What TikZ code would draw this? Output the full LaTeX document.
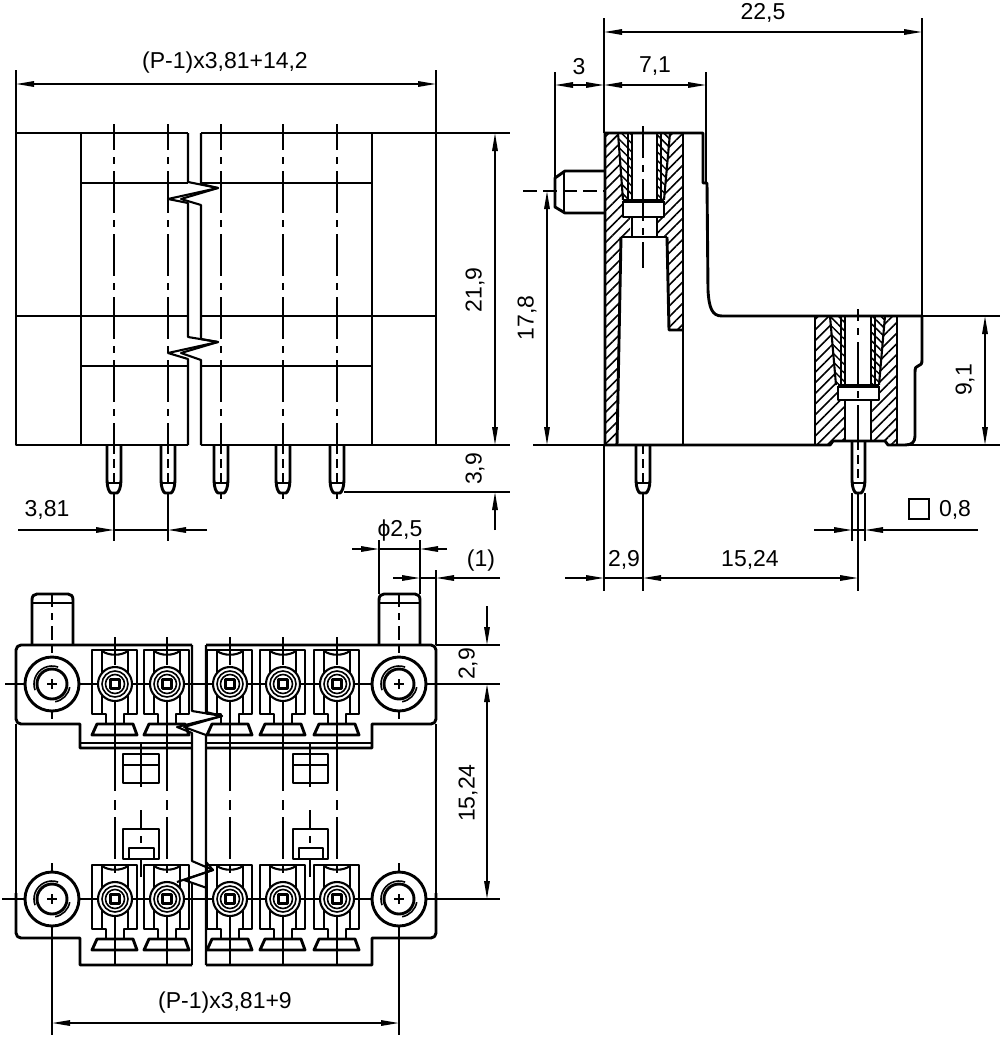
\documentclass[tikz,border=0pt]{standalone}
\usepackage{fontspec}
\setmainfont{Liberation Sans}
\usetikzlibrary{arrows.meta,patterns.meta}
\tikzset{
 ol/.style={line width=2.9pt,line join=round},
 med/.style={line width=2.1pt,line join=round},
 thn/.style={line width=1.6pt},
 cl/.style={line width=1.8pt,dash pattern=on 42pt off 7pt on 7pt off 7pt,dash phase=16pt},
 dm/.style={line width=1.5pt,{Triangle[length=18pt,width=5.5pt]}-{Triangle[length=18pt,width=5.5pt]}},
 da/.style={line width=1.5pt,-{Triangle[length=18pt,width=5.5pt]}},
 lab/.style={font=\fontsize{23}{25}\selectfont,inner sep=0pt},
 rlab/.style={lab,rotate=90},
 hu/.style={pattern={Lines[angle=45,distance=7.5pt,line width=1.6pt]}},
 hd/.style={pattern={Lines[angle=-45,distance=6pt,line width=1.5pt]}}
}
\newcommand{\termcell}[2]{%
 \begin{scope}[shift={(#1,#2)}]
  \draw[ol] (-13,30)--(-23,30)--(-23,-34)--(22,-34)--(22,30)--(13,30);
  \draw[med] (-13,-33) .. controls (-6,-28) and (6,-28) .. (13,-33);
  \draw[med] (-13,-33)--(-13,30) (13,-33)--(13,30);
  \draw[med] (-13,30)--(-9,30)--(-9,40) (13,30)--(9,30)--(9,40);
  \draw[ol] (-18,40)--(18,40)--(22,51)--(-23,51)--cycle;
  \draw[med,fill=white] (0,0) circle[radius=17pt];
  \draw[thn] (0,0) circle[radius=13pt];
  \draw[thn] (0,0) circle[radius=9.5pt];
  \draw[med] (-4.5,-4.5) rectangle (4.5,4.5);
 \end{scope}}
\newcommand{\bighole}[2]{%
 \draw[ol,fill=white] (#1,#2) circle[radius=27pt];
 \draw[ol] (#1,#2) circle[radius=15pt];
 \draw[thn] ([shift={(70:18pt)}]#1,#2) arc[start angle=70,end angle=200,radius=18pt];
 \draw[thn] ([shift={(-80:18pt)}]#1,#2) arc[start angle=-80,end angle=-10,radius=18pt];
 \draw[thn] (#1-5,#2)--(#1+5,#2) (#1,#2-5)--(#1,#2+5);}
\newcommand{\toppin}[1]{%
 \draw[ol] (#1-7,445)--(#1-7,480) .. controls (#1-7,487) and (#1-5,492) .. (#1-3,493)--(#1+3,493) .. controls (#1+5,492) and (#1+7,487) .. (#1+7,480)--(#1+7,445);
 \draw[thn] (#1-7,483)--(#1+7,483);
 \draw[line width=1.8pt,dash pattern=on 9pt off 5pt] (#1,445)--(#1,483);}
\begin{document}
\begin{tikzpicture}[x=1pt,y=-1pt,line cap=butt]
\useasboundingbox (0,0) rectangle (1000,1039);

%% ---------- top-left view ----------
\draw[ol] (188,133)--(16,133)--(16,445)--(188,445);
\draw[ol] (201,133)--(436,133)--(436,445)--(201,445);
\draw[ol] (81,133)--(81,445) (372,133)--(372,445);
\draw[ol] (81,183)--(188,183) (202,183)--(372,183);
\draw[ol] (16,316)--(188,316) (202,316)--(436,316);
\draw[ol] (81,366)--(188,366) (202,366)--(372,366);
\draw[med] (188,133)--(188,182)--(218,188)--(168,199)--(188,203)--(188,337)--(218,342)--(168,353)--(188,359)--(188,445);
\draw[med] (201,133)--(201,184)--(218,188)--(181,199)--(201,205)--(201,339)--(218,342)--(181,353)--(201,360)--(201,445);
\foreach \x in {114,168,221,283,337} {
  \draw[cl] (\x,124)--(\x,445);
  \toppin{\x}
}
\draw[thn] (114,493)--(114,541) (168,493)--(168,541);
\foreach \x in {221,283,337} \draw[thn] (\x,493)--(\x,499);

%% dims of top-left view
\draw[thn] (16,70)--(16,133) (436,70)--(436,133);
\draw[dm] (16,84)--(436,84);
\node[lab] (tPa) at (225,63) {(P-1)x3,81+14,2};
\draw[thn] (436,133)--(510,133) (436,445)--(510,445) (344,492)--(510,492);
\draw[dm] (495,133)--(495,445);
\node[rlab] (t219) at (475,290) {21,9};
\node[rlab] (t39) at (475,469) {3,9};
\draw[da] (495,530)--(495,492);
\draw[da] (18,530)--(114,530);
\draw[da] (207,530)--(168,530);
\draw[thn] (114,530)--(168,530);
\node[lab] (t381) at (47,510) {3,81};

%% ---------- right view ----------
% hatching
\fill[hu] (605,133)--(618,133)--(623,200)--(623,217)--(630,217)--(630,237)--(621,237)--(617,445)--(605,445)--cycle;
\fill[hu] (670,133)--(683,133)--(683,330)--(669,330)--(667,237)--(657,237)--(657,217)--(664,217)--(664,200)--cycle;
\fill[hd] (618,133)--(632,133)--(632,200)--(623,200)--cycle;
\fill[hd] (657,133)--(670,133)--(664,200)--(657,200)--cycle;
\fill[hu] (815,316)--(830,316)--(836,385)--(838,388)--(838,400)--(845,400)--(845,441)--(833,441)--(830,445)--(815,445)--cycle;
\fill[hu] (885,316)--(897,316)--(897,445)--(888,445)--(885,441)--(871,441)--(871,400)--(879,400)--(879,388)--cycle;
\fill[hd] (830,316)--(845,316)--(845,385)--(836,385)--cycle;
\fill[hd] (871,316)--(885,316)--(879,385)--(871,385)--cycle;
% outline upper
\draw[ol] (605,445)--(605,133)--(703,133)--(703,183)--(707,183)--(708,290) .. controls (709,308) and (712,316) .. (722,316)--(922,316);
\draw[ol] (683,133)--(683,445);
\draw[ol] (605,445)--(830,445)--(833,441)--(885,441)--(888,445)--(905,445) .. controls (912,445) and (915,442) .. (915,436)--(915,372) .. controls (915,368) and (916,366) .. (918,366) .. controls (921,365) and (922,364) .. (922,360)--(922,316);
% upper bore
\draw[med] (618,133)--(623,200);
\draw[med] (670,133)--(664,200);
\draw[ol] (632,133)--(632,200) (657,133)--(657,200);
\draw[thn] (628,133)--(628,200) (661,133)--(661,200);
\draw[line width=3.5pt] (623,201)--(664,201);
\draw[med] (623,201)--(623,217)--(664,217)--(664,201);
\draw[med] (632,217)--(632,237) (657,217)--(657,237);
\draw[ol] (621,237)--(667,237);
\draw[ol] (621,237)--(617,445);
\draw[ol] (667,237)--(669,330)--(683,330);
\draw[cl,dash phase=10pt] (643,126)--(643,268);
% lower bore
\draw[ol] (815,316)--(815,445) (897,316)--(897,445);
\draw[med] (830,316)--(836,385) (885,316)--(879,385);
\draw[ol] (845,316)--(845,385) (871,316)--(871,385);
\draw[thn] (841,316)--(841,385) (875,316)--(875,385);
\draw[line width=3.5pt] (838,386)--(879,386);
\draw[med] (838,386)--(838,400)--(879,400)--(879,386);
\draw[med] (845,400)--(845,441) (871,400)--(871,441);
\draw[cl,dash phase=30pt] (858,309)--(858,441);
% peg
\draw[ol] (605,171)--(565,171)--(555,178)--(555,207)--(565,213)--(605,213);
\draw[med] (564,171)--(564,213);
\draw[line width=1.8pt,dash pattern=on 14pt off 6pt] (523,191)--(605,191);
% pins
\draw[ol] (636,445)--(636,480) .. controls (636,487) and (638,492) .. (640,493)--(646,493) .. controls (648,492) and (650,487) .. (650,480)--(650,445);
\draw[thn] (636,483)--(650,483);
\draw[line width=1.8pt,dash pattern=on 9pt off 5pt] (643,445)--(643,483);
\draw[ol] (852,441)--(852,480) .. controls (852,487) and (854,492) .. (856,493)--(861,493) .. controls (863,492) and (865,487) .. (865,480)--(865,441);
\draw[thn] (852,483)--(865,483);
\draw[line width=1.8pt,dash pattern=on 9pt off 5pt] (858,441)--(858,483);
% dims right view
\draw[thn] (604,18)--(604,133) (922,18)--(922,316);
\draw[dm] (604,32)--(922,32);
\node[lab] (t225) at (763,13) {22,5};
\draw[thn] (555,72)--(555,178) (706,72)--(706,183);
\draw[dm] (555,85)--(604,85);
\draw[dm] (604,85)--(706,85);
\node[lab] (t3) at (579,67) {3};
\node[lab] (t71) at (655,66) {7,1};
\draw[thn] (922,316)--(1000,316) (905,445)--(1000,445);
\draw[dm] (985,316)--(985,445);
\node[rlab] (t91) at (965,380) {9,1};
\draw[thn] (533,445)--(605,445);
\draw[dm] (547,191)--(547,445);
\node[rlab] (t178) at (527,318) {17,8};
\draw[thn] (604,445)--(604,591) (643,493)--(643,591) (858,493)--(858,591);
\draw[thn] (852,493)--(852,541) (865,493)--(865,541);
\draw[da] (565,578)--(604,578);
\draw[dm] (643,578)--(858,578);
\draw[thn] (604,578)--(643,578);
\node[lab] (t29a) at (624,560) {2,9};
\node[lab] (t1524a) at (750,560) {15,24};
\draw[da] (814,530)--(852,530);
\draw[da] (978,530)--(865,530);
\draw[thn] (852,530)--(865,530);
\draw[thn] (909,499) rectangle (929,519);
\node[lab] (t08) at (955,510) {0,8};

%% ---------- bottom view ----------
% pegs
\foreach \x/\a/\b in {52/32/73,399/379/420} {
  \draw[ol] (\a,645)--(\a,600) .. controls (\a,596) and (\a+2,594) .. (\a+5,594)--(\b-5,594) .. controls (\b-2,594) and (\b,596) .. (\b,600)--(\b,645);
  \draw[thn] (\a,603)--(\b,603);
}
% centre lines behind
\draw[thn] (5,684)--(500,684);
\draw[thn] (2,899)--(500,899);
% body
\draw[ol] (192,645)--(21,645) arc[start angle=90,end angle=180,radius=5pt]--(16,719) arc[start angle=180,end angle=270,radius=5pt]--(80,724)--(80,748)--(192,748);
\draw[ol] (206,645)--(431,645) arc[start angle=90,end angle=0,radius=5pt]--(436,719) arc[start angle=0,end angle=-90,radius=5pt]--(372,724)--(372,748)--(206,748);
\draw[med] (80,743)--(192,743) (206,743)--(372,743);
\draw[med] (16,724)--(16,933) (436,724)--(436,933);
\draw[ol] (16,893)--(16,933) arc[start angle=180,end angle=270,radius=5pt]--(80,938)--(80,965)--(192,965);
\draw[ol] (436,893)--(436,933) arc[start angle=0,end angle=-90,radius=5pt]--(372,938)--(372,965)--(206,965);
\foreach \x in {115,167,230,283,337} {
  \draw[thn] (\x,637)--(\x,665);
  \draw[thn] (\x,701)--(\x,791);
  \draw[line width=1.8pt,dash pattern=on 10pt off 7pt on 42pt off 7pt on 7pt off 7pt] (\x,800)--(\x,878);
  \termcell{\x}{684}
  \termcell{\x}{899}
  \draw[thn] (\x,915)--(\x,965);
  \draw[thn] (\x,701)--(\x,745);
}
% break lines
\draw[med] (192,645)--(192,711)--(222,716)--(177,727)--(192,733)--(192,861)--(213,870)--(177,882);
\draw[med] (192,882)--(192,965);
\draw[med] (206,645)--(206,712)--(222,716)--(184,727)--(206,735)--(206,965);
\draw[med] (206,862)--(213,870)--(184,880)--(207,888);
% small rectangles
\foreach \x/\a/\b in {141/123/159,310/293/328} {
  \draw[ol] (\a,754) rectangle (\b,783);
  \draw[med] (\a,765)--(\b,765);
  \draw[thn] (\x,744)--(\x,787);
  \draw[ol] (\a,829) rectangle (\b,859);
  \draw[med] (\a+6,848) rectangle (\b-5,859);
  \draw[line width=1.8pt,dash pattern=on 20pt off 6pt on 7pt off 6pt] (\x,810)--(\x,848);
  \draw[thn] (\x,859)--(\x,877);
}
% holes
\bighole{52}{684}
\bighole{399}{684}
\bighole{52}{899}
\bighole{399}{899}
\draw[line width=1.8pt,dash pattern=on 14pt off 6pt on 7pt off 6pt] (52,593)--(52,657);
\draw[line width=1.8pt,dash pattern=on 14pt off 6pt on 7pt off 6pt] (399,593)--(399,657);
\draw[thn] (52,711)--(52,719) (399,711)--(399,719);
\draw[thn] (52,863)--(52,872) (399,863)--(399,872);
\draw[thn] (52,926)--(52,1035) (399,926)--(399,1035);
% dims of bottom view
\draw[thn] (379,540)--(379,594) (420,540)--(420,594);
\draw[da] (352,549)--(379,549);
\draw[da] (447,549)--(420,549);
\draw[thn] (379,549)--(420,549);
\node[lab] (tphi) at (400,531) {ϕ2,5};
\draw[thn] (436,570)--(436,645);
\draw[da] (393,578)--(420,578);
\draw[da] (500,578)--(436,578);
\draw[thn] (420,578)--(436,578);
\node[lab] (tone) at (481,561) {(1)};
\draw[thn] (436,645)--(500,645) (436,684)--(500,684) (436,899)--(500,899);
\draw[da] (487,606)--(487,645);
\draw[dm] (487,684)--(487,899);
\node[rlab] (t29b) at (468,664) {2,9};
\node[rlab] (t1524b) at (468,793) {15,24};
\draw[dm] (52,1023)--(399,1023);
\node[lab] (tPb) at (225,1003) {(P-1)x3,81+9};
\end{tikzpicture}
\end{document}
